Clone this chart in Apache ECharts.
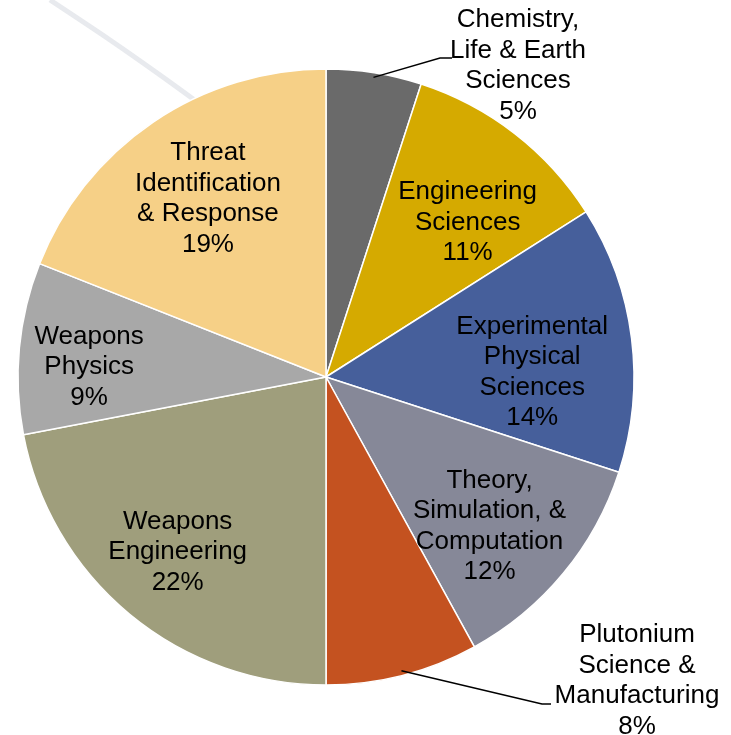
<!DOCTYPE html>
<html><head><meta charset="utf-8">
<script src="https://cdn.jsdelivr.net/npm/echarts@6/dist/echarts.min.js"></script>
<style>html,body{margin:0;padding:0;background:#fff}#c{width:731px;height:735px}</style>
</head><body><div id="c"></div>
<script>
const categories = [
  "Chemistry,\nLife & Earth\nSciences",
  "Engineering\nSciences",
  "Experimental\nPhysical\nSciences",
  "Theory,\nSimulation, &\nComputation",
  "Plutonium\nScience &\nManufacturing",
  "Weapons\nEngineering",
  "Weapons\nPhysics",
  "Threat\nIdentification\n& Response"
];
const values = [5, 11, 14, 12, 8, 22, 9, 19];
const colors = ["#6a6a6a", "#d5aa00", "#465f9b", "#868898", "#c45220", "#9f9e7c", "#a8a8a8", "#f6d087"];

const CX = 326, CY = 377, R = 308;
// inside label placement: [radius fraction, angle tweak (deg), y nudge]
const labelPlace = {1:[0.69,4,4],2:[0.67,5,3],3:[0.71,2,4],5:[0.74,1,2],6:[0.77,-2.5,2],7:[0.70,1,2]};
// outside labels: text block centre and the leader line's outer bend/end points
const outsidePlace = {0:{c:[518,66], bend:[440,58], end:[452,58]},
                      4:{c:[637,681], bend:[542,704], end:[551,704]}};

const total = values.reduce((a,b)=>a+b,0);
const midAngles = [];
let acc = 0;
values.forEach(v => { midAngles.push((acc + v/2)/total*360); acc += v; });

const leaderLines = Object.keys(outsidePlace).map(k => {
  const i = +k, o = outsidePlace[i];
  const a = midAngles[i] * Math.PI / 180;
  const r = R * 0.985;
  const start = [CX + r*Math.sin(a), CY - r*Math.cos(a)];
  return { type: 'polyline', z: 100, silent: true,
    shape: { points: [start, o.bend, o.end] },
    style: { stroke: '#000', lineWidth: 1.5, fill: null } };
});

const chart = echarts.init(document.getElementById('c'), null, {renderer:'canvas'});
chart.setOption({
  backgroundColor: '#fff',
  animation: false,
  graphic: [{
    type: 'polyline', z: -10, silent: true,
    shape: { points: [[50,0],[110,40],[160,75],[200,104]], smooth: 0.3 },
    style: { stroke: '#e8eaee', lineWidth: 5, fill: null }
  }].concat(leaderLines),
  series: [{
    type: 'pie',
    center: [CX, CY],
    radius: R,
    startAngle: 90,
    clockwise: true,
    avoidLabelOverlap: false,
    itemStyle: { borderColor: '#ffffff', borderWidth: 1.5 },
    label: {
      position: 'inside',
      color: '#000',
      fontFamily: 'Liberation Sans, Arial, sans-serif',
      fontSize: 26,
      lineHeight: 30.5,
      align: 'center',
      formatter: p => p.name + '\n' + p.value + '%'
    },
    labelLine: { show: false },
    labelLayout: function (params) {
      const i = params.dataIndex;
      if (outsidePlace[i]) {
        return { x: outsidePlace[i].c[0], y: outsidePlace[i].c[1], align: 'center', verticalAlign: 'middle' };
      }
      const pl = labelPlace[i];
      const a = (midAngles[i] + pl[1]) * Math.PI / 180;
      const r = pl[0] * R;
      return { x: CX + r*Math.sin(a), y: CY - r*Math.cos(a) + pl[2], align: 'center', verticalAlign: 'middle' };
    },
    data: categories.map((n, i) => ({ name: n, value: values[i], itemStyle: { color: colors[i] } }))
  }]
});
</script></body></html>
